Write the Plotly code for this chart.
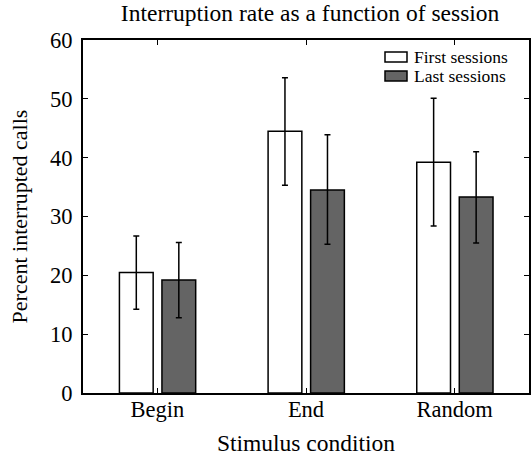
import plotly.graph_objects as go

categories = ["Begin", "End", "Random"]
series_names = ["First sessions", "Last sessions"]
first_vals = [20.5, 44.5, 39.2]
first_err_plus = [6.2, 9.1, 10.9]
first_err_minus = [6.25, 9.2, 10.8]
last_vals = [19.2, 34.5, 33.3]
last_err_plus = [6.4, 9.4, 7.7]
last_err_minus = [6.4, 9.2, 7.8]
y_ticks = [0, 10, 20, 30, 40, 50, 60]

FONT = "Liberation Serif"
COLORS = ["white", "#646464"]
xs = [1, 2, 3]

W, H = 531, 456
ML, MR, MT, MB = 83, 2, 40, 63
PW, PH = W - ML - MR, H - MT - MB

def px(x):
    return (x - ML) / PW

def py(y):
    return (H - MB - y) / PH

fig = go.Figure()
fig.add_trace(go.Bar(
    x=xs, y=first_vals, name=series_names[0], offset=-0.255, width=0.227,
    marker=dict(color=COLORS[0], line=dict(color="black", width=1.5)),
    error_y=dict(type="data", symmetric=False, array=first_err_plus,
                 arrayminus=first_err_minus, color="black", thickness=1.5, width=3),
))
fig.add_trace(go.Bar(
    x=xs, y=last_vals, name=series_names[1], offset=0.031, width=0.227,
    marker=dict(color=COLORS[1], line=dict(color="black", width=1.5)),
    error_y=dict(type="data", symmetric=False, array=last_err_plus,
                 arrayminus=last_err_minus, color="black", thickness=1.5, width=3),
))

# legend drawn as boxes + text (to match the wide rectangular swatches)
for i, (name, col) in enumerate(zip(series_names, COLORS)):
    yc = 57 + 19 * i
    fig.add_shape(type="rect", xref="paper", yref="paper",
                  x0=px(385), x1=px(407), y0=py(yc + 5), y1=py(yc - 5),
                  fillcolor=col, line=dict(color="black", width=1.5))
    fig.add_annotation(text=name, xref="paper", yref="paper", x=px(412), y=py(yc),
                       xanchor="left", yanchor="middle", showarrow=False,
                       font=dict(family=FONT, size=17.5, color="black"))

fig.update_layout(
    width=W, height=H,
    margin=dict(l=ML, r=MR, t=MT, b=MB),
    barmode="overlay",
    paper_bgcolor="white", plot_bgcolor="white",
    font=dict(family=FONT, color="black", size=20),
    title=dict(text="Interruption rate as a function of session", x=0.584, xanchor="center",
               y=0.972, yanchor="middle", font=dict(family=FONT, size=23.5)),
    showlegend=False,
    xaxis=dict(
        range=[0.5, 3.5], tickvals=xs, ticktext=categories, automargin=False,
        showline=True, linecolor="black", linewidth=2, mirror="ticks",
        ticks="inside", ticklen=5, tickcolor="black", tickwidth=1,
        showgrid=False, zeroline=False, ticklabelstandoff=-5,
        tickfont=dict(family=FONT, size=22.5),
        title=dict(text="Stimulus condition", font=dict(family=FONT, size=23.5), standoff=18),
    ),
    yaxis=dict(
        range=[0, 60], tickvals=y_ticks, automargin=False,
        showline=True, linecolor="black", linewidth=2, mirror="ticks",
        ticks="inside", ticklen=5, tickcolor="black", tickwidth=1,
        showgrid=False, zeroline=False, ticklabelstandoff=4,
        tickfont=dict(family=FONT, size=22.5),
        title=dict(text="Percent interrupted calls", font=dict(family=FONT, size=22), standoff=16),
    ),
)

fig.write_html("out.html")
